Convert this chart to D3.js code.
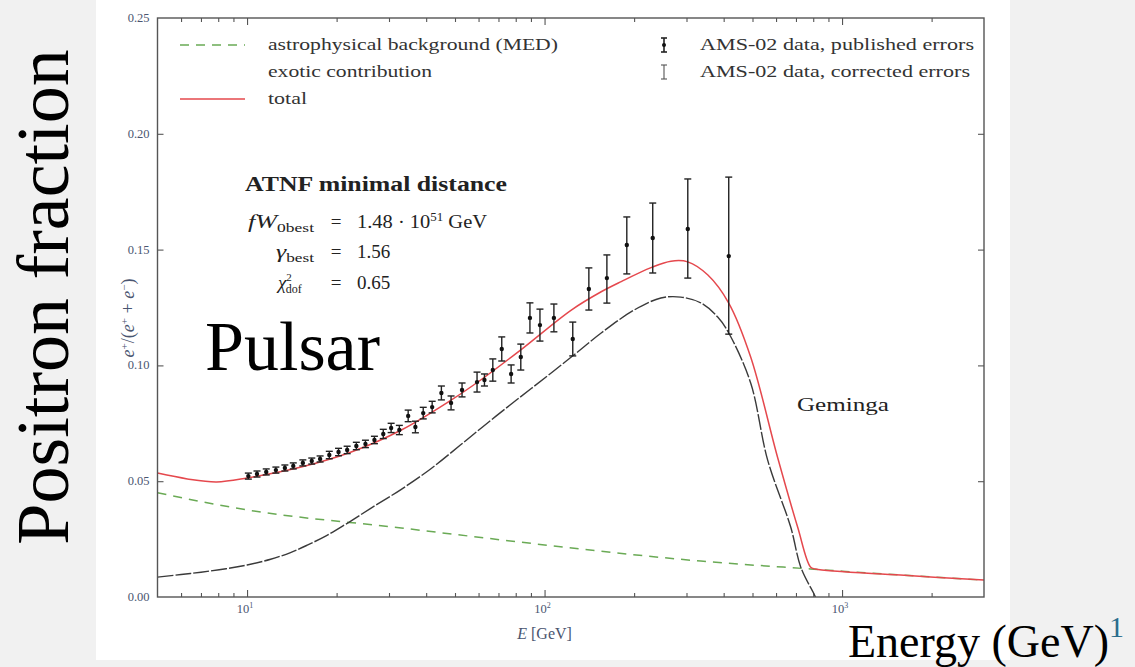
<!DOCTYPE html>
<html>
<head>
<meta charset="utf-8">
<script src="https://cdn.jsdelivr.net/npm/d3@7"></script>
<style>
  html, body { margin: 0; padding: 0; background: #f2f2f2; }
  svg { display: block; }
</style>
</head>
<body>
<svg id="chart" width="1135" height="667"></svg>
<script>
// ---- axis ticks ----
const xMajorTicks = [10, 100, 1000];
const xMajorExponents = ["1", "2", "3"];
const yTicks = [0, 0.05, 0.10, 0.15, 0.20, 0.25];
const yTickLabels = ["0.00", "0.05", "0.10", "0.15", "0.20", "0.25"];

// ---- AMS-02 positron fraction ----
const amsEnergy = [10.1, 10.8, 11.6, 12.5, 13.4, 14.3, 15.4, 16.5, 17.6, 18.9,
  20.3, 21.7, 23.3, 25.0, 26.8, 28.7, 30.5, 32.5, 34.8, 36.8,
  39.1, 41.9, 45.0, 48.5, 52.8, 59.3, 62.8, 67.0, 71.8, 77.2,
  83.2, 89.3, 96.5, 107.5, 124.4, 140.9, 162, 189, 231, 303, 416];
const amsFraction = [0.0522, 0.0531, 0.0540, 0.0548, 0.0557, 0.0566, 0.0579, 0.0587, 0.0596, 0.0613,
  0.0626, 0.0635, 0.0652, 0.0661, 0.0678, 0.0704, 0.0730, 0.0721, 0.0782, 0.0734,
  0.0794, 0.0820, 0.0881, 0.0838, 0.0894, 0.0928, 0.0937, 0.0980, 0.1071, 0.0963,
  0.1036, 0.1205, 0.1174, 0.1205, 0.1114, 0.1330, 0.1377, 0.1520, 0.1550, 0.1589, 0.1472];
const amsErrUp = [0.0013, 0.0013, 0.0013, 0.0013, 0.0013, 0.0013, 0.0013, 0.0013, 0.0013, 0.0016,
  0.0016, 0.0016, 0.0016, 0.0016, 0.0016, 0.0020, 0.0020, 0.0020, 0.0025, 0.0025,
  0.0025, 0.0025, 0.0030, 0.0030, 0.0030, 0.0043, 0.0026, 0.0048, 0.0052, 0.0039,
  0.0056, 0.0065, 0.0069, 0.0060, 0.0073, 0.0091, 0.0100, 0.0121, 0.0151, 0.0216, 0.0341];
const amsErrDown = [0.0013, 0.0013, 0.0013, 0.0013, 0.0013, 0.0013, 0.0013, 0.0013, 0.0013, 0.0016,
  0.0016, 0.0016, 0.0016, 0.0016, 0.0016, 0.0020, 0.0020, 0.0020, 0.0025, 0.0025,
  0.0025, 0.0025, 0.0030, 0.0030, 0.0030, 0.0043, 0.0026, 0.0048, 0.0052, 0.0039,
  0.0056, 0.0065, 0.0069, 0.0060, 0.0073, 0.0091, 0.0108, 0.0125, 0.0151, 0.0212, 0.0337];

// ---- model curves ----
const totalEnergy = [5, 6.3, 7.9, 10, 15.2, 22.4, 33, 48.5, 61, 83, 123, 155, 181, 228, 266, 303,
  354, 416, 493, 608, 709, 783, 814, 1570, 3000];
const totalFraction = [0.0535, 0.0510, 0.0497, 0.0514, 0.0561, 0.0626, 0.0721, 0.0850, 0.0937, 0.1066,
  0.1239, 0.1318, 0.1362, 0.1422, 0.1450, 0.1447, 0.1390, 0.1269, 0.1036, 0.0600, 0.0302, 0.0130,
  0.0121, 0.0095, 0.0073];

const exoticEnergy = [5, 6, 7, 8.5, 10, 12, 14, 16, 18.5, 21.5, 26.2, 33, 41.6, 52, 61.3, 75, 90.2,
  123, 155, 200, 246, 287, 335, 382, 416, 493, 562, 672, 726, 802, 814];
const exoticFraction = [0.0086, 0.0097, 0.0107, 0.0122, 0.0138, 0.0163, 0.0192, 0.0225, 0.0265, 0.0315,
  0.0385, 0.0465, 0.0555, 0.0655, 0.0730, 0.0820, 0.0900, 0.1036, 0.1140, 0.1239, 0.1291, 0.1295,
  0.1270, 0.1209, 0.1140, 0.0924, 0.0592, 0.0302, 0.0130, 0.0017, 0.0];

const backgroundEnergy = [5, 10, 33, 100, 335, 783, 1570, 3000];
const backgroundFraction = [0.0450, 0.0376, 0.0298, 0.0225, 0.0155, 0.0121, 0.0095, 0.0073];

// ---- layout ----
const svg = d3.select("#chart");
const W = 1135, H = 667;
const plot = { left: 157.5, right: 984, top: 18, bottom: 597 };
const serif = "'Liberation Serif', 'DejaVu Serif', serif";
const tickColor = "#4a5570";

// white sheet behind the figure
svg.append("rect").attr("x", 0).attr("y", 0).attr("width", W).attr("height", H).attr("fill", "#f1f1f1");
svg.append("rect").attr("x", 96).attr("y", 0).attr("width", 914).attr("height", 660).attr("fill", "#ffffff");

const x = d3.scaleLog().domain([5, 3000]).range([plot.left, plot.right]);
const y = d3.scaleLinear().domain([0, 0.25]).range([plot.bottom, plot.top]);

const g = svg.append("g");

svg.append("defs").append("clipPath").attr("id", "plotclip")
  .append("rect").attr("x", plot.left).attr("y", plot.top)
  .attr("width", plot.right - plot.left).attr("height", plot.bottom - plot.top);

// ---- axes (ticks inside, mirrored) ----
const minorX = x.ticks().filter(t => !xMajorTicks.includes(t) && t > 5 && t < 3000);
const frameColor = "#555";

const axB = d3.axisBottom(x).tickValues(xMajorTicks).tickSizeInner(-7).tickSizeOuter(0).tickFormat("");
const axT = d3.axisTop(x).tickValues(xMajorTicks).tickSizeInner(-7).tickSizeOuter(0).tickFormat("");
const axBm = d3.axisBottom(x).tickValues(minorX).tickSizeInner(-4).tickSizeOuter(0).tickFormat("");
const axTm = d3.axisTop(x).tickValues(minorX).tickSizeInner(-4).tickSizeOuter(0).tickFormat("");
const axL = d3.axisLeft(y).tickValues(yTicks.slice(1, -1)).tickSizeInner(-6).tickSizeOuter(0).tickFormat("");
const axR = d3.axisRight(y).tickValues(yTicks.slice(1, -1)).tickSizeInner(-6).tickSizeOuter(0).tickFormat("");

function styleAxis(sel) {
  sel.select(".domain").remove();
  sel.selectAll(".tick line").attr("stroke", frameColor).attr("stroke-width", 1.1);
}
g.append("g").attr("transform", `translate(0,${plot.bottom})`).call(axB).call(styleAxis);
g.append("g").attr("transform", `translate(0,${plot.top})`).call(axT).call(styleAxis);
g.append("g").attr("transform", `translate(0,${plot.bottom})`).call(axBm).call(styleAxis);
g.append("g").attr("transform", `translate(0,${plot.top})`).call(axTm).call(styleAxis);
g.append("g").attr("transform", `translate(${plot.left},0)`).call(axL).call(styleAxis);
g.append("g").attr("transform", `translate(${plot.right},0)`).call(axR).call(styleAxis);

// tick labels
g.selectAll("text.ylab").data(yTicks).join("text")
  .attr("class", "ylab")
  .attr("x", plot.left - 8).attr("y", d => y(d) + 4)
  .attr("text-anchor", "end")
  .attr("font-family", serif).attr("font-size", 12.5).attr("fill", tickColor)
  .text((d, i) => yTickLabels[i]);

const xl = g.selectAll("text.xlab").data(xMajorTicks).join("text")
  .attr("class", "xlab")
  .attr("x", d => x(d) - 2).attr("y", plot.bottom + 16)
  .attr("text-anchor", "middle")
  .attr("font-family", serif).attr("font-size", 12.5).attr("fill", tickColor);
xl.append("tspan").text("10");
xl.append("tspan").attr("dy", -5).attr("font-size", 8).text((d, i) => xMajorExponents[i]);

// axis titles
const xt = g.append("text").attr("x", x(100)).attr("y", plot.bottom + 42)
  .attr("text-anchor", "middle").attr("font-family", serif).attr("font-size", 16).attr("fill", tickColor);
xt.append("tspan").attr("font-style", "italic").text("E");
xt.append("tspan").text(" [GeV]");

const yt = g.append("text").attr("transform", "translate(134,318) rotate(-90)")
  .attr("text-anchor", "middle").attr("font-family", serif).attr("font-size", 18).attr("fill", tickColor);
yt.append("tspan").attr("font-style", "italic").text("e");
yt.append("tspan").attr("dy", -6).attr("font-size", 11).text("+");
yt.append("tspan").attr("dy", 6).text("/(");
yt.append("tspan").attr("font-style", "italic").text("e");
yt.append("tspan").attr("dy", -6).attr("font-size", 11).text("+");
yt.append("tspan").attr("dy", 6).text(" + ");
yt.append("tspan").attr("font-style", "italic").text("e");
yt.append("tspan").attr("dy", -6).attr("font-size", 11).text("\u2212");
yt.append("tspan").attr("dy", 6).text(")");

// ---- curves ----
const curves = g.append("g").attr("clip-path", "url(#plotclip)");
const line = d3.line().x(d => x(d[0])).y(d => y(d[1])).curve(d3.curveMonotoneX);
const smoothLine = d3.line().x(d => x(d[0])).y(d => y(d[1])).curve(d3.curveCatmullRom.alpha(0.5));

curves.append("path")
  .attr("d", line(d3.zip(backgroundEnergy, backgroundFraction)))
  .attr("fill", "none").attr("stroke", "#6aaa55").attr("stroke-width", 1.5)
  .attr("stroke-dasharray", "9,7");

curves.append("path")
  .attr("d", smoothLine(d3.zip(exoticEnergy, exoticFraction)))
  .attr("fill", "none").attr("stroke", "#3a3a3a").attr("stroke-width", 1.4)
  .attr("stroke-dasharray", "16,2");

curves.append("path")
  .attr("d", smoothLine(d3.zip(totalEnergy, totalFraction)))
  .attr("fill", "none").attr("stroke", "#e5484d").attr("stroke-width", 1.5);

// ---- data points with error bars ----
const pts = d3.range(amsEnergy.length).map(i => ({
  e: amsEnergy[i], v: amsFraction[i], up: amsErrUp[i], dn: amsErrDown[i]
}));
const pg = g.append("g").attr("stroke", "#222").attr("stroke-width", 1.4);
const capW = 3.5;
pts.forEach(p => {
  const px = x(p.e);
  const y1 = y(p.v + p.up), y0 = y(p.v - p.dn);
  pg.append("line").attr("x1", px).attr("x2", px).attr("y1", y1).attr("y2", y0);
  pg.append("line").attr("x1", px - capW).attr("x2", px + capW).attr("y1", y1).attr("y2", y1);
  pg.append("line").attr("x1", px - capW).attr("x2", px + capW).attr("y1", y0).attr("y2", y0);
});
g.append("g").selectAll("circle").data(pts).join("circle")
  .attr("cx", d => x(d.e)).attr("cy", d => y(d.v)).attr("r", 2.2).attr("fill", "#111");

// frame
g.append("rect").attr("x", plot.left).attr("y", plot.top)
  .attr("width", plot.right - plot.left).attr("height", plot.bottom - plot.top)
  .attr("fill", "none").attr("stroke", frameColor).attr("stroke-width", 1.4);

// ---- legend ----
const leg = g.append("g").attr("font-family", serif).attr("font-size", 17).attr("fill", "#333");
const rows = [45, 72, 99];
leg.append("line").attr("x1", 180).attr("x2", 245).attr("y1", rows[0]).attr("y2", rows[0])
  .attr("stroke", "#6aaa55").attr("stroke-width", 1.5).attr("stroke-dasharray", "9,7");
leg.append("line").attr("x1", 180).attr("x2", 245).attr("y1", rows[2]).attr("y2", rows[2])
  .attr("stroke", "#e5484d").attr("stroke-width", 1.5);
function legText(xp, yp, len, str) {
  leg.append("text").attr("x", xp).attr("y", yp).attr("textLength", len)
    .attr("lengthAdjust", "spacingAndGlyphs").text(str);
}
legText(268, rows[0] + 5, 290, "astrophysical background (MED)");
legText(268, rows[1] + 5, 164, "exotic contribution");
legText(268, rows[2] + 5, 39, "total");

function legendBar(cx, cy, half, filled) {
  const s = leg.append("g").attr("stroke", filled ? "#222" : "#555").attr("stroke-width", filled ? 1.6 : 1.1);
  s.append("line").attr("x1", cx).attr("x2", cx).attr("y1", cy - half).attr("y2", cy + half);
  s.append("line").attr("x1", cx - 3).attr("x2", cx + 3).attr("y1", cy - half).attr("y2", cy - half);
  s.append("line").attr("x1", cx - 3).attr("x2", cx + 3).attr("y1", cy + half).attr("y2", cy + half);
  if (filled) leg.append("circle").attr("cx", cx).attr("cy", cy).attr("r", 2).attr("fill", "#111");
}
legendBar(664, rows[0], 7, true);
legendBar(664, rows[1], 7, false);
legText(700, rows[0] + 5, 274, "AMS-02 data, published errors");
legText(700, rows[1] + 5, 270, "AMS-02 data, corrected errors");

// ---- fit annotation ----
const ann = g.append("g").attr("font-family", serif).attr("fill", "#222");
ann.append("text").attr("x", 245).attr("y", 191).attr("font-size", 20).attr("font-weight", "bold")
  .attr("textLength", 262).attr("lengthAdjust", "spacingAndGlyphs").text("ATNF minimal distance");

const eqX = 336, rhsX = 357, lhsRight = 314;
function lhs(yb, len, build) {
  const t = ann.append("text").attr("x", lhsRight - len).attr("y", yb).attr("font-size", 18)
    .attr("textLength", len).attr("lengthAdjust", "spacingAndGlyphs");
  build(t);
  ann.append("text").attr("x", eqX).attr("y", yb).attr("font-size", 19).attr("text-anchor", "middle").text("=");
}
lhs(228, 66, t => {
  t.append("tspan").attr("font-style", "italic").text("fW");
  t.append("tspan").attr("dy", 4).attr("font-size", 12).text("0best");
});
lhs(258, 38, t => {
  t.append("tspan").attr("font-style", "italic").text("\u03b3");
  t.append("tspan").attr("dy", 4).attr("font-size", 12).text("best");
});
const chi = ann.append("text").attr("x", lhsRight - 36).attr("y", 289).attr("font-size", 19);
chi.append("tspan").attr("font-style", "italic").text("\u03c7");
chi.append("tspan").attr("dy", -8).attr("font-size", 11).text("2");
chi.append("tspan").attr("dy", 12).attr("dx", -6).attr("font-size", 12).text("dof");
ann.append("text").attr("x", eqX).attr("y", 289).attr("font-size", 19).attr("text-anchor", "middle").text("=");

const r1 = ann.append("text").attr("x", rhsX).attr("y", 228).attr("font-size", 19)
  .attr("textLength", 130).attr("lengthAdjust", "spacingAndGlyphs");
r1.append("tspan").text("1.48 \u00b7 10");
r1.append("tspan").attr("dy", -7).attr("font-size", 12).text("51");
r1.append("tspan").attr("dy", 7).text(" GeV");
ann.append("text").attr("x", rhsX).attr("y", 258).attr("font-size", 19).text("1.56");
ann.append("text").attr("x", rhsX).attr("y", 289).attr("font-size", 19).text("0.65");

g.append("text").attr("x", 797).attr("y", 411).attr("font-family", serif).attr("font-size", 19)
  .attr("fill", "#222").attr("textLength", 92).attr("lengthAdjust", "spacingAndGlyphs").text("Geminga");

// ---- slide overlays ----
svg.append("text").attr("x", 205).attr("y", 370).attr("font-family", serif).attr("font-size", 70)
  .attr("fill", "#000").text("Pulsar");
svg.append("text").attr("transform", "translate(68,297) rotate(-90)").attr("text-anchor", "middle")
  .attr("font-family", serif).attr("font-size", 74).attr("fill", "#000").text("Positron fraction");
const en = svg.append("text").attr("x", 848).attr("y", 657).attr("font-family", serif)
  .attr("font-size", 46).attr("fill", "#000");
en.append("tspan").text("Energy (GeV)");
en.append("tspan").attr("dy", -20).attr("font-size", 30).attr("fill", "#2a6d8c").text("1");
</script>
</body>
</html>
